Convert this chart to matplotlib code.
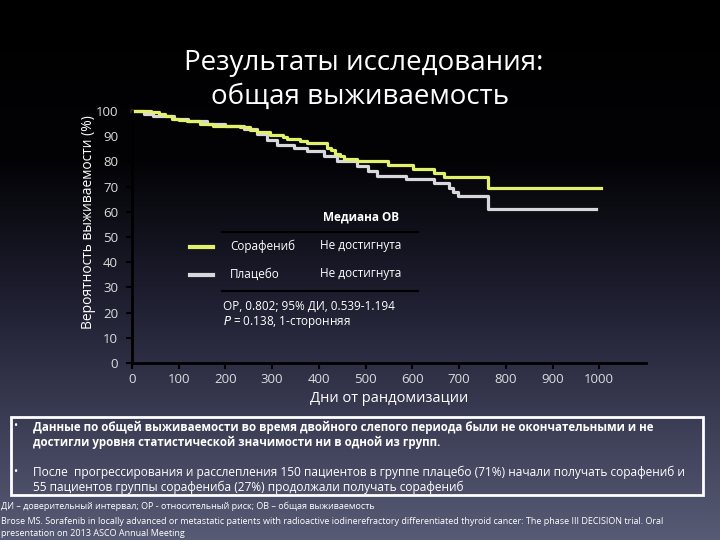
import numpy as np
import matplotlib.pyplot as plt
from matplotlib.lines import Line2D
from matplotlib.patches import Rectangle

# --- DATA ---
sora_days = [0, 40, 57, 70, 85, 100, 117, 146, 174, 232, 253, 268, 296, 324, 332,
             360, 375, 418, 425, 435, 446, 453, 482, 547, 601, 646, 668, 762, 1004]
sora_surv = [100, 99.5, 99, 98, 97, 96.5, 96, 95, 94, 93.5, 92.5, 91.5, 90.5, 89.5, 88.7,
             88, 87.2, 85.5, 84.5, 83, 82, 81, 80, 78.6, 77, 75.5, 74, 69.3, 69.3]

plac_days = [0, 25, 45, 90, 120, 160, 200, 240, 268, 289, 310, 346, 375, 411, 439,
             482, 504, 525, 586, 646, 678, 687, 697, 762, 994]
plac_surv = [100, 99, 98, 97, 96, 95, 94, 93, 91, 88.5, 86.5, 85.3, 84, 82, 80,
             78.2, 76, 74.2, 72.9, 71.6, 69.6, 68, 66.3, 61, 61]

x_ticks = list(range(0, 1001, 100))
y_ticks = list(range(0, 101, 10))

YELLOW = "#e3f06a"
GRAY = "#d8d8dc"
FONT = "Open Sans"


def fx(px):
    return px / 720


def fy(py):
    return 1 - py / 540


def main():
    plt.rcParams['font.family'] = [FONT, 'DejaVu Sans']
    fig = plt.figure(figsize=(7.2, 5.4), dpi=100)

    # background gradient: black at top, slate blue at bottom
    bg = fig.add_axes([0, 0, 1, 1], zorder=-10)
    stops_y = [0.0, 0.30, 0.55, 0.75, 1.0]
    stops_c = np.array([[0, 0, 0], [3, 3, 6], [30, 30, 48], [55, 57, 80], [88, 91, 117]]) / 255
    yy = np.linspace(0, 1, 540)
    grad = np.stack([np.interp(yy, stops_y, stops_c[:, i]) for i in range(3)], axis=-1)
    bg.imshow(grad[:, None, :], aspect='auto', extent=[0, 1, 1, 0])
    bg.set_xlim(0, 1)
    bg.set_ylim(1, 0)
    bg.axis('off')

    # --- KM plot ---
    ax = fig.add_axes([fx(132), fy(363), (646 - 132) / 720, (363 - 111) / 540])
    ax.patch.set_alpha(0)
    ax.step(plac_days, plac_surv, where='post', color=GRAY, lw=2.3, clip_on=False)
    ax.step(sora_days, sora_surv, where='post', color=YELLOW, lw=2.3, clip_on=False)
    ax.set_xlim(0, 1100)
    ax.set_ylim(0, 100)
    ax.set_xticks(x_ticks)
    ax.set_yticks(y_ticks)
    for s in ['top', 'right']:
        ax.spines[s].set_visible(False)
    for s in ['left', 'bottom']:
        ax.spines[s].set_color('black')
        ax.spines[s].set_linewidth(2)
    ax.tick_params(colors='black', direction='out', length=4, width=1.5,
                   labelcolor='#dcdcdc', labelsize=9.5)
    ax.tick_params(axis='y', pad=6)
    ax.tick_params(axis='x', pad=3)
    ax.set_xlabel("Дни от рандомизации", color='white', fontsize=10.5, labelpad=4)

    fig.text(fx(88), fy(222), "Вероятность выживаемости (%)", rotation=90,
             color='white', fontsize=10, ha='center', va='center')

    # title
    fig.text(0.505, fy(63), "Результаты исследования:", color='white', fontsize=20,
             ha='center', va='center')
    fig.text(0.5, fy(97), "общая выживаемость", color='white', fontsize=20,
             ha='center', va='center')

    # --- legend table ---
    fig.text(fx(361), fy(217), "Медиана ОВ", color='white', fontsize=8.5,
             fontweight='bold', ha='center', va='center')
    fig.add_artist(Line2D([fx(222), fx(418)], [fy(232), fy(232)], color='black', lw=1.5))
    fig.add_artist(Line2D([fx(222), fx(418)], [fy(291), fy(291)], color='black', lw=1.5))
    fig.add_artist(Line2D([fx(190), fx(213)], [fy(247), fy(247)], color=YELLOW, lw=3))
    fig.add_artist(Line2D([fx(190), fx(213)], [fy(275), fy(275)], color=GRAY, lw=3))
    fig.text(fx(230), fy(246), "Сорафениб", color='white', fontsize=8.5, va='center')
    fig.text(fx(320), fy(246), "Не достигнута", color='white', fontsize=8.5, va='center')
    fig.text(fx(230), fy(274), "Плацебо", color='white', fontsize=8.5, va='center')
    fig.text(fx(320), fy(274), "Не достигнута", color='white', fontsize=8.5, va='center')
    fig.text(fx(223), fy(306), "ОР, 0.802; 95% ДИ, 0.539-1.194", color='white',
             fontsize=8.5, va='center')
    fig.text(fx(223), fy(322), r"$P$ = 0.138, 1-сторонняя", color='white',
             fontsize=8.5, va='center')

    # --- bottom box with bullets ---
    fig.add_artist(Rectangle((fx(11), fy(495)), fx(703 - 11), (495 - 417) / 540,
                             fill=False, edgecolor='white', lw=2))
    bullets = [
        ("Данные по общей выживаемости во время двойного слепого периода были не окончательными и не",
         "достигли уровня статистической значимости ни в одной из групп.", 'bold', 8.3, 427),
        ("После  прогрессирования и расслепления 150 пациентов в группе плацебо (71%) начали получать сорафениб и",
         "55 пациентов группы сорафениба (27%) продолжали получать сорафениб", 'normal', 8.6, 472),
    ]
    for l1, l2, w, fs, y0 in bullets:
        fig.text(fx(13), fy(y0), "•", color='white', fontsize=8, va='center')
        fig.text(fx(33), fy(y0), l1, color='white', fontsize=fs, fontweight=w, va='center')
        fig.text(fx(33), fy(y0 + 15), l2, color='white', fontsize=fs, fontweight=w, va='center')

    # footnotes
    notes = [
        (506, "ДИ – доверительный интервал; ОР - относительный риск; ОВ – общая выживаемость"),
        (522, "Brose MS. Sorafenib in locally advanced or metastatic patients with radioactive iodinerefractory differentiated thyroid cancer: The phase III DECISION trial. Oral"),
        (533, "presentation on 2013 ASCO Annual Meeting"),
    ]
    for y0, t in notes:
        fig.text(fx(1), fy(y0), t, color='white', fontsize=6.5, va='center')

    fig.savefig("out.png", dpi=100)


if __name__ == "__main__":
    main()
